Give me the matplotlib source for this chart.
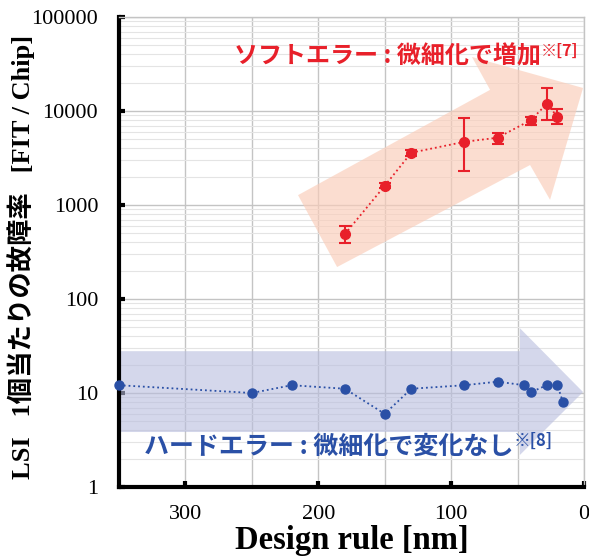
import numpy as np
import matplotlib
matplotlib.use("Agg")
import matplotlib.pyplot as plt
from matplotlib.patches import Polygon
from matplotlib.ticker import FixedLocator, LogLocator, NullFormatter

# ---------- DATA ----------
soft_rule = [180, 150, 130, 90, 65, 40, 28, 20]
soft_fit = [490, 1600, 3600, 4700, 5200, 8000, 11900, 8700]
soft_lo = [395, 1510, 3330, 2320, 4460, 7150, 8000, 7200]
soft_hi = [595, 1700, 3840, 8500, 5880, 8700, 17700, 10600]

hard_rule = [350, 250, 220, 180, 150, 130, 90, 65, 45, 40, 28, 20, 16]
hard_fit = [12.1, 10.0, 12.1, 11.1, 6.0, 11.1, 12.1, 13.2, 12.1, 10.2, 12.1, 12.1, 8.1]

x_ticks = [300, 200, 100, 0]
x_grid = [350, 250, 150, 50]

RED = "#e8202a"
BLUE = "#2a50a6"

serif = ["Liberation Serif", "DejaVu Serif"]
jp = ["Noto Sans CJK JP", "DejaVu Sans"]

# ---------- FIGURE ----------
fig = plt.figure(figsize=(5.89, 5.6), dpi=100)
ax = fig.add_axes([119 / 589, 73 / 560, 465 / 589, 470 / 560])

ax.set_yscale("log")
ax.set_ylim(1, 100000)
ax.set_xlim(350, 0)

ax.xaxis.set_major_locator(FixedLocator(x_ticks))
ax.xaxis.set_minor_locator(FixedLocator(x_grid))
ax.yaxis.set_major_locator(LogLocator(base=10, numticks=10))
ax.yaxis.set_minor_locator(LogLocator(base=10, subs=np.arange(2, 10), numticks=20))
ax.yaxis.set_minor_formatter(NullFormatter())
ax.yaxis.set_major_formatter(plt.FuncFormatter(lambda v, p: f"{int(round(v))}"))

ax.grid(True, which="major", color="#c4c4c4", linewidth=1.0, zorder=0)
ax.grid(True, which="minor", axis="y", color="#e4e4e4", linewidth=0.8, zorder=0)
ax.grid(True, which="minor", axis="x", color="#c4c4c4", linewidth=1.0, zorder=0)
ax.set_axisbelow(True)

for side in ["left", "bottom"]:
    ax.spines[side].set_linewidth(3)
    ax.spines[side].set_color("black")
for side in ["top", "right"]:
    ax.spines[side].set_linewidth(1)
    ax.spines[side].set_color("#c4c4c4")

ax.tick_params(which="major", direction="in", length=4, width=3, labelsize=16)
ax.tick_params(axis="y", which="major", pad=15)
ax.tick_params(axis="x", which="major", pad=13)
ax.tick_params(which="minor", length=0)
for lab in ax.get_xticklabels() + ax.get_yticklabels():
    lab.set_fontfamily(serif)

# ---------- BACKGROUND ARROWS ----------
red_arrow = [(0.385, 0.621), (0.469, 0.468), (0.884, 0.685), (0.927, 0.611),
             (0.998, 0.849), (0.759, 0.915), (0.798, 0.845)]
ax.add_patch(Polygon(red_arrow, closed=True, transform=ax.transAxes,
                     facecolor=(0.98, 0.80, 0.72), alpha=0.65,
                     edgecolor="none", zorder=1))

blue_arrow = [(0.0, 0.117), (0.862, 0.117), (0.862, 0.068), (0.998, 0.202),
              (0.862, 0.338), (0.862, 0.289), (0.0, 0.289)]
ax.add_patch(Polygon(blue_arrow, closed=True, transform=ax.transAxes,
                     facecolor=(0.72, 0.74, 0.87), alpha=0.6,
                     edgecolor="none", zorder=1))

# ---------- MARKS ----------
soft_fit_a = np.array(soft_fit)
yerr = [soft_fit_a - np.array(soft_lo), np.array(soft_hi) - soft_fit_a]
ax.errorbar(soft_rule, soft_fit, yerr=yerr, fmt="o", color=RED, ms=7,
            capsize=4, elinewidth=1.5, capthick=1.5, zorder=4)
ax.plot(soft_rule, soft_fit, ":", color=RED, linewidth=1.3, zorder=3)

ax.plot(hard_rule, hard_fit, ":", color=BLUE, linewidth=1.3, marker="o",
        ms=6.5, markerfacecolor=BLUE, markeredgecolor=BLUE, zorder=4,
        clip_on=False)

# ---------- ANNOTATIONS ----------
t1 = ax.text(0.247, 0.917, "ソフトエラー : 微細化で増加", transform=ax.transAxes,
             fontsize=17.3, fontweight="bold", color=RED, family=jp,
             ha="left", va="center", zorder=5)
ax.annotate("※[7]", xy=(1.0, 0.38), xycoords=t1, fontsize=11.5,
            fontweight="bold", color=RED, family=jp, ha="left", va="bottom",
            zorder=5)

t2 = ax.text(0.054, 0.085, "ハードエラー : 微細化で変化なし", transform=ax.transAxes,
             fontsize=18, fontweight="bold", color=BLUE, family=jp,
             ha="left", va="center", zorder=5)
ax.annotate("※[8]", xy=(1.0, 0.38), xycoords=t2, fontsize=12,
            fontweight="bold", color=BLUE, family=jp, ha="left", va="bottom",
            zorder=5)

ax.set_xlabel("Design rule [nm]", fontsize=23.5, fontweight="bold",
              family=serif, labelpad=1)
ax.set_ylabel("LSI   1個当たりの故障率   [FIT / Chip]", fontsize=19,
              fontweight="bold", family=serif + jp, va="center")
ax.yaxis.set_label_coords(-0.21, 0.49)

fig.savefig("out.png", dpi=100)
